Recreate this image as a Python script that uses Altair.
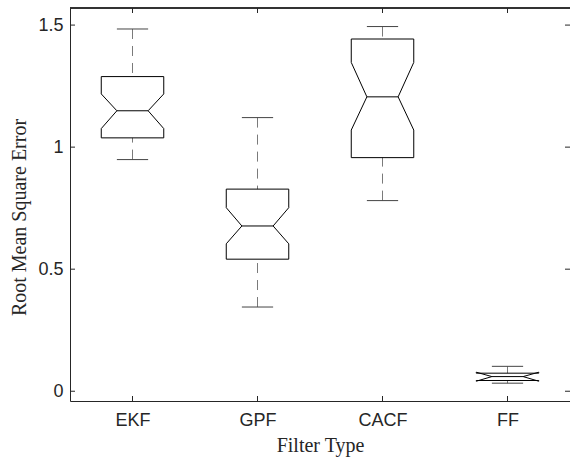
import altair as alt
import pandas as pd

# ---- data ----
categories = ["EKF", "GPF", "CACF", "FF"]
whisker_lo = [0.949, 0.345, 0.781, 0.033]
q1 = [1.038, 0.541, 0.957, 0.044]
notch_lo = [1.076, 0.604, 1.070, 0.041]
median = [1.149, 0.677, 1.206, 0.060]
notch_hi = [1.218, 0.752, 1.347, 0.078]
q3 = [1.289, 0.828, 1.443, 0.074]
whisker_hi = [1.484, 1.121, 1.494, 0.102]
y_ticks = [0, 0.5, 1, 1.5]

W, H = 500, 393
HALF = 0.25      # half box width in category units
INNER = 0.125    # half notch width
TXT = "#262626"

pos = list(range(1, len(categories) + 1))

# box outline polygons (notched)
rows = []
for i, c in enumerate(categories):
    p = pos[i]
    pts = [
        (p - HALF, q1[i]), (p - HALF, notch_lo[i]), (p - INNER, median[i]),
        (p - HALF, notch_hi[i]), (p - HALF, q3[i]), (p + HALF, q3[i]),
        (p + HALF, notch_hi[i]), (p + INNER, median[i]), (p + HALF, notch_lo[i]),
        (p + HALF, q1[i]), (p - HALF, q1[i]),
    ]
    for k, (x, y) in enumerate(pts):
        rows.append({"cat": c, "k": k, "x": x, "y": y})
outline = pd.DataFrame(rows)

stats = pd.DataFrame({
    "cat": categories, "pos": pos, "lo": whisker_lo, "q1": q1, "med": median,
    "q3": q3, "hi": whisker_hi,
})
stats["left"] = stats["pos"] - INNER
stats["right"] = stats["pos"] + INNER

label_expr = "[" + ",".join("'%s'" % c for c in categories) + "][datum.value - 1]"

xscale = alt.Scale(domain=[0.5, len(categories) + 0.5], nice=False, zero=False)
yscale = alt.Scale(domain=[-0.04, 1.57], nice=False, zero=False)

xaxis = alt.Axis(
    values=pos, labelExpr=label_expr, ticks=False, grid=False,
    labelFont="Liberation Sans", labelFontSize=18, labelColor=TXT, labelPadding=10,
    title="Filter Type", titleFont="Liberation Serif", titleFontSize=20,
    titleFontWeight="normal", titleColor=TXT, titleX=W / 2, titleY=50,
    titleBaseline="alphabetic", domainColor=TXT,
)
yaxis = alt.Axis(
    values=y_ticks, ticks=False, grid=False, labelExpr="datum.value == 0 ? '0' : format(datum.value, '')",
    labelFont="Liberation Sans", labelFontSize=18, labelColor=TXT, labelPadding=7,
    title="Root Mean Square Error", titleFont="Liberation Serif", titleFontSize=20,
    titleFontWeight="normal", titleColor=TXT, titleX=-45, titleY=209,
    titleBaseline="alphabetic", titleAngle=270, domainColor=TXT,
)

base_stats = alt.Chart(stats)

whisk_up = base_stats.mark_rule(color="#7a7a7a", strokeWidth=1, strokeDash=[10, 7]).encode(
    x=alt.X("pos:Q", scale=xscale, axis=xaxis),
    y=alt.Y("hi:Q", scale=yscale, axis=yaxis),
    y2="q3:Q",
)
whisk_dn = base_stats.mark_rule(color="#7a7a7a", strokeWidth=1, strokeDash=[10, 7]).encode(
    x="pos:Q", y="lo:Q", y2="q1:Q",
)
cap_up = base_stats.mark_rule(color="#444444", strokeWidth=1).encode(
    x="left:Q", x2="right:Q", y="hi:Q",
)
cap_dn = base_stats.mark_rule(color="#444444", strokeWidth=1).encode(
    x="left:Q", x2="right:Q", y="lo:Q",
)
med_line = base_stats.mark_rule(color="black", strokeWidth=1).encode(
    x="left:Q", x2="right:Q", y="med:Q",
)
box = alt.Chart(outline).mark_line(color="black", strokeWidth=1).encode(
    x="x:Q", y="y:Q", detail="cat:N", order="k:Q",
)

# inward ticks (MATLAB style) and top frame
yt = pd.DataFrame({"v": y_ticks})
xt = pd.DataFrame({"p": pos})
ytick_l = alt.Chart(yt).mark_rule(color=TXT).encode(y="v:Q", x=alt.value(0), x2=alt.value(5))
ytick_r = alt.Chart(yt).mark_rule(color=TXT).encode(y="v:Q", x=alt.value(W - 5), x2=alt.value(W))
xtick_b = alt.Chart(xt).mark_rule(color=TXT).encode(x="p:Q", y=alt.value(H - 5), y2=alt.value(H))
xtick_t = alt.Chart(xt).mark_rule(color=TXT).encode(x="p:Q", y=alt.value(0), y2=alt.value(5))
top_frame = alt.Chart(xt).mark_rule(color=TXT).encode(x=alt.value(0), x2=alt.value(W), y=alt.value(0))

chart = alt.layer(
    whisk_up, whisk_dn, cap_up, cap_dn, box, med_line,
    ytick_l, ytick_r, xtick_b, xtick_t, top_frame,
).properties(
    width=W, height=H,
    padding={"left": 70, "top": 8, "right": 0, "bottom": 59},
    autosize=alt.AutoSizeParams(type="none"),
    background="white",
).configure_view(strokeWidth=0, stroke="transparent")

chart.save("out.html", embed_options={"renderer": "svg", "actions": False})
